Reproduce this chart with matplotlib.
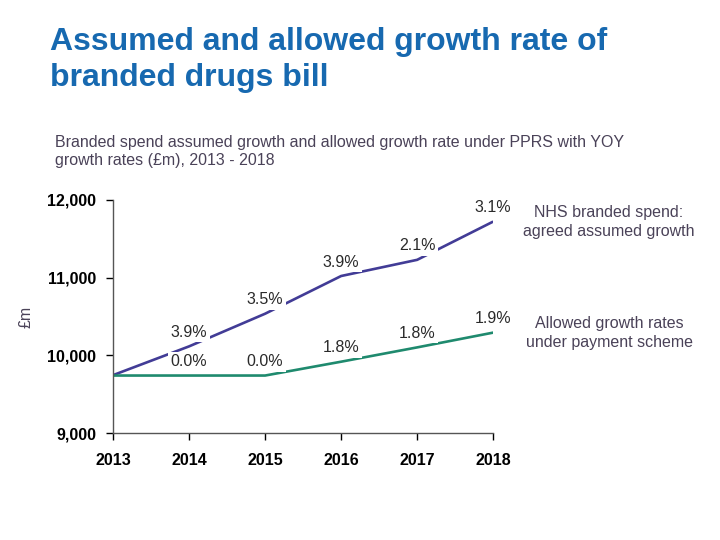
import matplotlib.pyplot as plt

# === Data ===
years = [2013, 2014, 2015, 2016, 2017, 2018]
assumed = [9745, 10115, 10535, 11020, 11228, 11720]
allowed = [9740, 9740, 9740, 9918, 10102, 10292]
assumed_rates = ["", "3.9%", "3.5%", "3.9%", "2.1%", "3.1%"]
allowed_rates = ["", "0.0%", "0.0%", "1.8%", "1.8%", "1.9%"]
yticks = [9000, 10000, 11000, 12000]

plt.rcParams['font.family'] = ['Liberation Sans', 'DejaVu Sans']

PURPLE = '#423c96'
GREEN = '#1f8a6e'
TEXT = '#4a4258'

fig = plt.figure(figsize=(7.2, 5.4), dpi=100)
ax = fig.add_axes([0.157, 0.198, 0.528, 0.432])

ax.plot(years, assumed, color=PURPLE, lw=1.9, solid_capstyle='butt')
ax.plot(years, allowed, color=GREEN, lw=1.9, solid_capstyle='butt')

# growth rate labels sit just above each point, masking the line
for x, y, s in zip(years, assumed, assumed_rates):
    if s:
        ax.annotate(s, (x, y), xytext=(0, 10), textcoords='offset points',
                    ha='center', va='center', fontsize=11.5, color='#2a2a2a',
                    bbox=dict(boxstyle='square,pad=0.15', fc='white', ec='none'))
for x, y, s in zip(years, allowed, allowed_rates):
    if s:
        ax.annotate(s, (x, y), xytext=(0, 10), textcoords='offset points',
                    ha='center', va='center', fontsize=11.5, color='#2a2a2a',
                    bbox=dict(boxstyle='square,pad=0.15', fc='white', ec='none'))

ax.set_xlim(2013, 2018)
ax.set_ylim(9000, 12000)
ax.set_xticks(years)
ax.set_xticklabels([str(y) for y in years], fontweight='bold', fontsize=11.5)
ax.set_yticks(yticks)
ax.set_yticklabels([f"{v:,}" for v in yticks], fontweight='bold', fontsize=11.5)
ax.tick_params(axis='y', direction='out', length=5, width=1, pad=7)
ax.tick_params(axis='x', direction='out', length=5, width=1, pad=9)
for side in ['top', 'right']:
    ax.spines[side].set_visible(False)
for side in ['left', 'bottom']:
    ax.spines[side].set_linewidth(1)
    ax.spines[side].set_color('#555555')

ax.set_ylabel("£m", color=TEXT, fontsize=11.5, labelpad=10)

# titles
title_lines = ["Assumed and allowed growth rate of", "branded drugs bill"]
for i, line in enumerate(title_lines):
    fig.text(50 / 720, 1 - (42 + 36 * i) / 540, line, ha='left', va='center',
             fontsize=23, fontweight='bold', color='#1769b0')
sub_lines = ["Branded spend assumed growth and allowed growth rate under PPRS with YOY",
             "growth rates (£m), 2013 - 2018"]
for i, line in enumerate(sub_lines):
    fig.text(55 / 720, 1 - (143 + 18 * i) / 540, line, ha='left', va='center',
             fontsize=11.5, color=TEXT)

# series labels on the right
fig.text(609 / 720, 1 - 222 / 540, "NHS branded spend:\nagreed assumed growth",
         ha='center', va='center', fontsize=11.5, color=TEXT, linespacing=1.3)
fig.text(609 / 720, 1 - 333 / 540, "Allowed growth rates\nunder payment scheme",
         ha='center', va='center', fontsize=11.5, color=TEXT, linespacing=1.3)

plt.savefig("out.png", dpi=100)
